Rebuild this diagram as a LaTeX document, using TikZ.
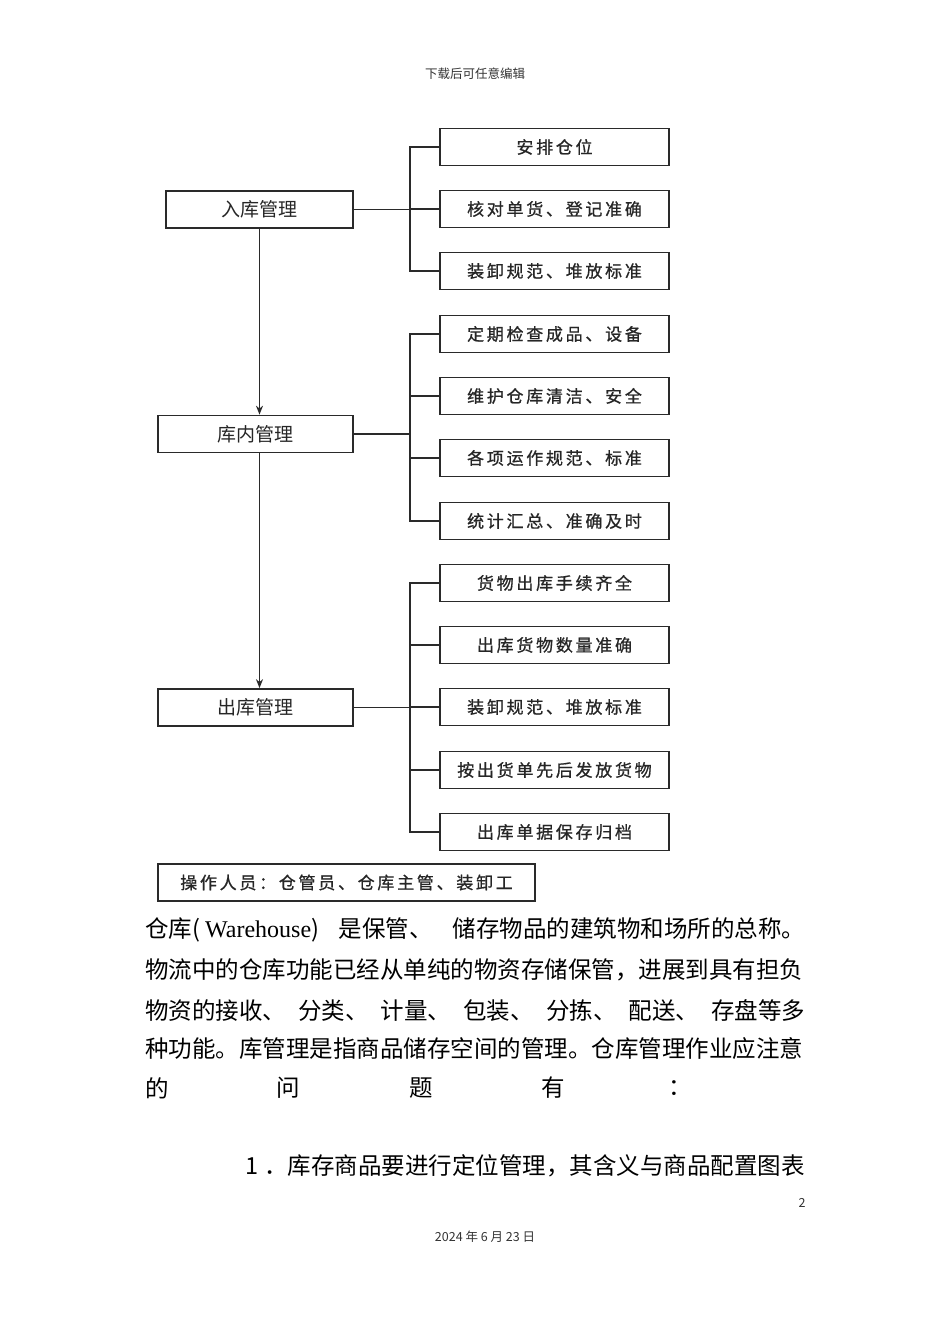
\documentclass[tikz,border=0pt]{standalone}
\usepackage{fontspec}
\setmainfont{Liberation Serif}
\newfontfamily\cjk{Noto Sans CJK SC}
\newfontfamily\cjkls[LetterSpace=16,FakeBold=0.8]{Noto Sans CJK SC}
\newfontfamily\latinmono{Liberation Serif}
\usetikzlibrary{arrows.meta}
\definecolor{linec}{HTML}{2A2A2A}
\definecolor{boxtext}{HTML}{262626}
\tikzset{
  mainbox/.style={draw=linec, line width=1.7pt, minimum height=37pt, inner sep=0pt,
    font=\cjk\fontsize{19}{19}\selectfont, text=boxtext},
  subbox/.style={draw=linec, line width=1.7pt, minimum width=229pt, minimum height=37pt, inner sep=0pt,
    font=\cjkls\fontsize{17}{17}\selectfont, text=boxtext},
  conn/.style={draw=linec, line width=1.7pt},
  flowarrow/.style={draw=linec, line width=1.3pt, -{Stealth[length=9pt,width=7pt]}},
  bodyline/.style={anchor=west, inner sep=0pt, font=\cjk\fontsize{23.5}{23.5}\selectfont, text=black},
  smalltext/.style={inner sep=0pt, text=black!80}
}
\begin{document}
\begin{tikzpicture}[x=1pt,y=-1pt]
\useasboundingbox[fill=white] (0,0) rectangle (950,1344);

% header
\node[smalltext, font=\cjk\fontsize{12.5}{12.5}\selectfont] (hdr) at (475,74) {下载后可任意编辑};

% left boxes
\node[mainbox, minimum width=187pt] (in) at (259.5,209.5) {入库管理};
\node[mainbox, minimum width=195pt] (ku) at (255.5,434) {库内管理};
\node[mainbox, minimum width=195pt] (out) at (255.5,707.5) {出库管理};

% right boxes
\node[subbox] (s1) at (554.5,147) {安排仓位};
\node[subbox] (s2) at (554.5,209) {核对单货、登记准确};
\node[subbox] (s3) at (554.5,271) {装卸规范、堆放标准};
\node[subbox] (s4) at (554.5,334) {定期检查成品、设备};
\node[subbox] (s5) at (554.5,396) {维护仓库清洁、安全};
\node[subbox] (s6) at (554.5,458) {各项运作规范、标准};
\node[subbox] (s7) at (554.5,521) {统计汇总、准确及时};
\node[subbox] (s8) at (554.5,583) {货物出库手续齐全};
\node[subbox] (s9) at (554.5,645) {出库货物数量准确};
\node[subbox] (s10) at (554.5,707) {装卸规范、堆放标准};
\node[subbox] (s11) at (554.5,770) {按出货单先后发放货物};
\node[subbox] (s12) at (554.5,832) {出库单据保存归档};

% operator box
\node[subbox, minimum width=377pt] (op) at (346.5,882.5) {操作人员：仓管员、仓库主管、装卸工};

\coordinate (bx) at (410,0);

% brackets group 1
\draw[conn] (s1.west) -| (bx |- s3.west) -- (s3.west);
\draw[conn] (s2.west) -- (bx |- s2.west);
\draw[conn] (in.east) -- (bx |- in.east);
% group 2
\draw[conn] (s4.west) -| (bx |- s7.west) -- (s7.west);
\draw[conn] (s5.west) -- (bx |- s5.west);
\draw[conn] (s6.west) -- (bx |- s6.west);
\draw[conn] (ku.east) -- (bx |- ku.east);
% group 3
\draw[conn] (s8.west) -| (bx |- s12.west) -- (s12.west);
\draw[conn] (s9.west) -- (bx |- s9.west);
\draw[conn] (s10.west) -- (bx |- s10.west);
\draw[conn] (s11.west) -- (bx |- s11.west);
\draw[conn] (out.east) -- (bx |- out.east);

% flow arrows
\draw[flowarrow] (in.south) -- (in.south |- ku.north);
\draw[flowarrow] (in.south |- ku.south) -- (in.south |- out.north);

% body text
\node[bodyline] (p1) at (145,930) {\makebox[660pt][s]{仓库(\hspace{5pt}{\latinmono\fontsize{24}{24}\selectfont Warehouse}) 是保管、 储存物品的建筑物和场所的总称。}};
\node[bodyline] (p2) at (145,970) {\makebox[660pt][s]{物流中的仓库功能已经从单纯的物资存储保管，进展到具有担负}};
\node[bodyline] (p3) at (145,1010) {\makebox[660pt][s]{物资的接收、 分类、 计量、 包装、 分拣、 配送、 存盘等多}};
\node[bodyline] (p4) at (145,1049) {\makebox[660pt][s]{种功能。库管理是指商品储存空间的管理。仓库管理作业应注意}};
\node[bodyline] (p5a) at (145,1088) {的};
\node[bodyline] (p5b) at (276,1088) {问};
\node[bodyline] (p5c) at (409,1088) {题};
\node[bodyline] (p5d) at (541,1088) {有};
\node[bodyline] (p5e) at (668,1088) {：};
\node[bodyline] (p6) at (245,1166) {1\hspace{6pt}．库存商品要进行定位管理，其含义与商品配置图表};

% footer
\node[smalltext, font=\cjk\fontsize{12.5}{12.5}\selectfont] (pg) at (802,1203) {2};
\node[smalltext, font=\cjk\fontsize{12.5}{12.5}\selectfont] (dt) at (485,1237) {2024 年 6 月 23 日};
\end{tikzpicture}
\end{document}
